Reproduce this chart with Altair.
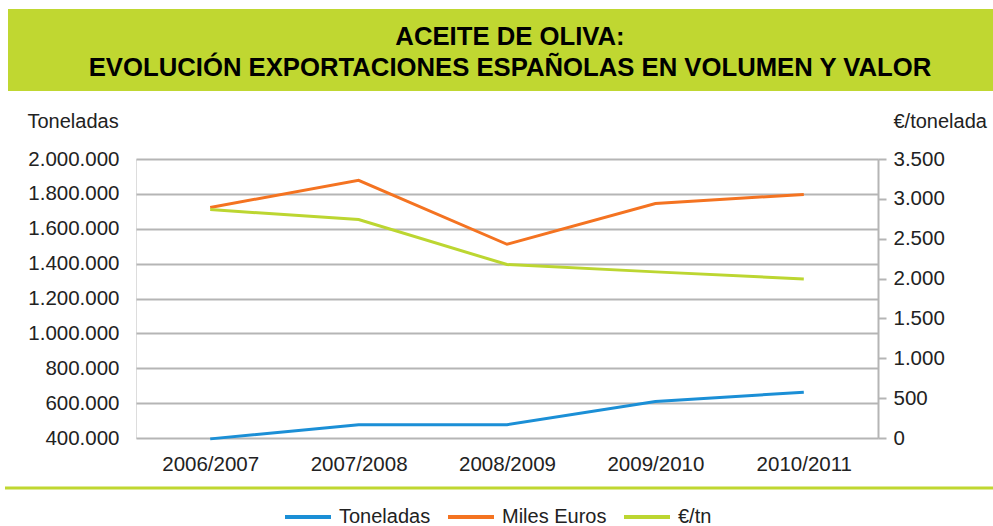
import altair as alt
import pandas as pd

categories = ["2006/2007", "2007/2008", "2008/2009", "2009/2010", "2010/2011"]
toneladas = [395000, 476000, 476000, 609000, 663000]
miles_euros = [1722000, 1878000, 1511000, 1745000, 1797000]
eur_tn = [2865, 2740, 2176, 2084, 1996]

series_names = ["Toneladas", "Miles Euros", "€/tn"]
series_colors = ["#1b8fd6", "#f47321", "#bcd631"]

left_df = pd.DataFrame({
    "periodo": categories * 2,
    "valor": toneladas + miles_euros,
    "serie": ["Toneladas"] * 5 + ["Miles Euros"] * 5,
})
right_df = pd.DataFrame({
    "periodo": categories,
    "valor": eur_tn,
    "serie": ["€/tn"] * 5,
})

W, H = 742, 279
FONT = "Liberation Sans"
TXT = "#222222"
fmt = "replace(format(datum.value, ','), /,/g, '.')"

x_enc = alt.X("periodo:N", sort=categories, title=None,
              scale=alt.Scale(paddingInner=0, paddingOuter=0),
              axis=alt.Axis(domain=False, ticks=False, labelAngle=0, labelFontSize=20.5,
                            labelFont=FONT, labelColor=TXT, labelPadding=16, grid=False))
color_enc = alt.Color("serie:N",
                      scale=alt.Scale(domain=series_names, range=series_colors),
                      legend=alt.Legend(title=None, orient="none", direction="horizontal",
                                        legendX=147, legendY=333,
                                        symbolType="stroke", symbolSize=2116,
                                        symbolStrokeWidth=4, labelFontSize=20,
                                        labelFont=FONT, labelColor=TXT,
                                        labelOffset=6, columnPadding=9, symbolOffset=0))

left = alt.Chart(left_df).mark_line(strokeWidth=3).encode(
    x=x_enc,
    y=alt.Y("valor:Q", scale=alt.Scale(domain=[400000, 2000000], zero=False, nice=False),
            axis=alt.Axis(title="Toneladas", titleAngle=0, titleX=-109, titleY=-32,
                          titleAlign="left", titleBaseline="alphabetic",
                          titleFontSize=20, titleFontWeight="normal", titleFont=FONT,
                          titleColor=TXT,
                          values=list(range(400000, 2000001, 200000)),
                          labelExpr=fmt, labelFontSize=20.5, labelFont=FONT, labelColor=TXT,
                          domain=False, ticks=False, tickSize=0, labelPadding=17,
                          grid=True, gridColor="#b5b5b5", gridWidth=2)),
    color=color_enc,
)

right = alt.Chart(right_df).mark_line(strokeWidth=3).encode(
    x=x_enc,
    y=alt.Y("valor:Q", scale=alt.Scale(domain=[0, 3500], nice=False),
            axis=alt.Axis(orient="right", title="€/tonelada", titleAngle=0, titleX=15,
                          titleY=-32, titleAlign="left", titleBaseline="alphabetic",
                          titleFontSize=20, titleFontWeight="normal", titleFont=FONT,
                          titleColor=TXT,
                          values=list(range(0, 3501, 500)),
                          labelExpr=fmt, labelFontSize=20.5, labelFont=FONT, labelColor=TXT,
                          domain=True, domainColor="#b5b5b5", domainWidth=2,
                          ticks=True, tickColor="#b5b5b5", tickWidth=2, tickSize=8,
                          labelPadding=7, grid=False)),
    color=color_enc,
)

deco_df = pd.DataFrame({"k": [0]})
banner = alt.Chart(deco_df).mark_rect(color="#c0d731").encode(
    x=alt.value(-128), x2=alt.value(857), y=alt.value(-150), y2=alt.value(-68))
title1 = alt.Chart(deco_df).mark_text(
    text="ACEITE DE OLIVA:", font=FONT, fontSize=25.7, fontWeight="bold",
    color="#000000", align="center", baseline="middle").encode(
    x=alt.value(374), y=alt.value(-122))
title2 = alt.Chart(deco_df).mark_text(
    text="EVOLUCIÓN EXPORTACIONES ESPAÑOLAS EN VOLUMEN Y VALOR", font=FONT,
    fontSize=25.7, fontWeight="bold", color="#000000", align="center",
    baseline="middle").encode(x=alt.value(374), y=alt.value(-91))
sep = alt.Chart(deco_df).mark_rule(color="#c0d731", strokeWidth=3).encode(
    x=alt.value(-131), x2=alt.value(857), y=alt.value(329))

chart = alt.layer(banner, title1, title2, sep, left, right).resolve_scale(
    y="independent"
).properties(
    width=W, height=H,
    autosize=alt.AutoSizeParams(type="none"),
    padding={"left": 136, "top": 159, "right": 115, "bottom": 88},
).configure_view(stroke=None).configure(background="white")

chart.save("out.html", embed_options={"renderer": "svg", "actions": False})
